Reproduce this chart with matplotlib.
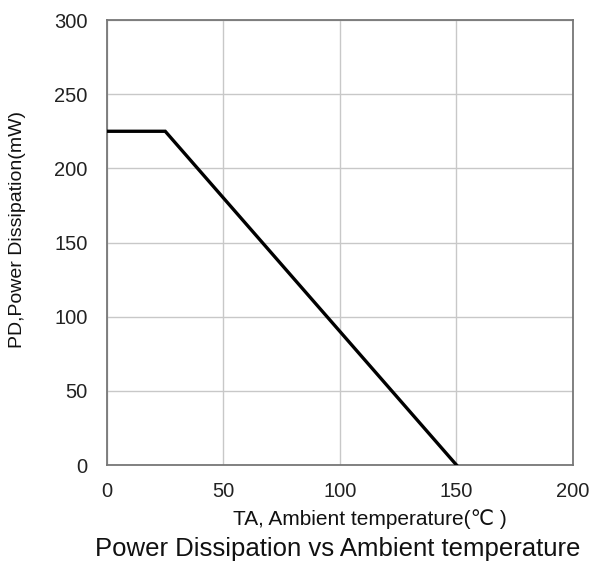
import matplotlib.pyplot as plt

# derating curve points
temp = [0, 25, 150]
power = [225, 225, 0]

x_ticks = [0, 50, 100, 150, 200]
y_ticks = [0, 50, 100, 150, 200, 250, 300]

plt.rcParams['font.family'] = ['Liberation Sans', 'DejaVu Sans']

fig = plt.figure(figsize=(5.93, 5.61), dpi=100)
ax = fig.add_axes([0.1804, 0.1711, 0.7858, 0.7932])

ax.plot(temp, power, color="black", linewidth=2.4, solid_joinstyle="miter", zorder=3)

ax.set_xlim(0, 200)
ax.set_ylim(0, 300)
ax.set_xticks(x_ticks)
ax.set_yticks(y_ticks)
ax.grid(True, color="#c8c8c8", linewidth=1.0)
ax.tick_params(length=0, labelsize=14.5, colors="#222222")
ax.tick_params(axis="x", pad=12)
ax.tick_params(axis="y", pad=14)
for s in ax.spines.values():
    s.set_color("#777777")
    s.set_linewidth(1.3)

# axis labels and caption placed directly on the figure
fig.text(18 / 593, 1 - 229 / 561, "PD,Power Dissipation(mW)", fontsize=14,
         rotation=90, ha="center", va="center", color="#111111")
fig.text(233 / 593, 1 - 525 / 561, "TA, Ambient temperature(℃ )", fontsize=15,
         ha="left", va="baseline", color="#111111")
fig.text(95 / 593, 1 - 556 / 561, "Power Dissipation vs Ambient temperature", fontsize=18.5,
         ha="left", va="baseline", color="#111111")

fig.savefig("out.png", dpi=100)
